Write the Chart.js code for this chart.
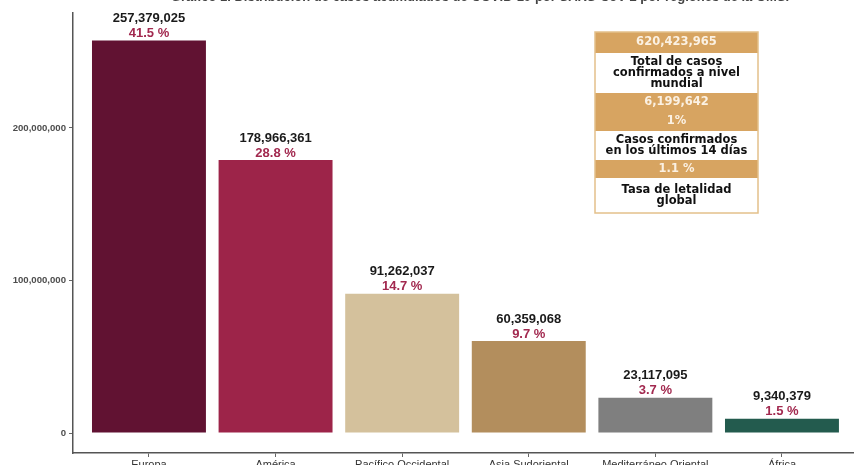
<!DOCTYPE html>
<html>
<head>
<meta charset="utf-8">
<script src="https://cdn.jsdelivr.net/npm/chart.js@4"></script>
<style>
html,body{margin:0;padding:0;background:#fff;}
#wrap{width:854px;height:465px;position:relative;}
</style>
</head>
<body>
<div id="wrap"><canvas id="c" width="854" height="465"></canvas></div>
<script>
const titleText = "Gráfico 1. Distribución de casos acumulados de COVID-19 por SARS-CoV-2 por regiones de la OMS.";
const categories = ["Europa", "América", "Pacífico Occidental", "Asia Sudoriental", "Mediterráneo Oriental", "África"];
const cases = [257379025, 178966361, 91262037, 60359068, 23117095, 9340379];
const percents = ["41.5 %", "28.8 %", "14.7 %", "9.7 %", "3.7 %", "1.5 %"];
const barColors = ["#611232", "#9D2449", "#D4C19C", "#B38E5D", "#7F7F7F", "#235B4E"];
const yTicks = [0, 100000000, 200000000];
const boxRows = [
  {gold: true, lines: ["620,423,965"]},
  {gold: false, lines: ["Total de casos", "confirmados a nivel", "mundial"]},
  {gold: true, lines: ["6,199,642", "1%"]},
  {gold: false, lines: ["Casos confirmados", "en los últimos 14 días"]},
  {gold: true, lines: ["1.1 %"]},
  {gold: false, lines: ["Tasa de letalidad", "global"]}
];

const fmt = n => n.toLocaleString('en-US');

const boxPlugin = {
  id: 'extras',
  afterDatasetsDraw(chart) {
    const ctx = chart.ctx;
    ctx.save();
    const meta = chart.getDatasetMeta(0);
    ctx.textAlign = 'center';
    ctx.textBaseline = 'middle';
    meta.data.forEach((bar, i) => {
      ctx.font = 'bold 13px "Liberation Sans", Arial, sans-serif';
      ctx.fillStyle = '#1a1a1a';
      ctx.fillText(fmt(cases[i]), bar.x, bar.y - 22);
      ctx.fillStyle = '#A2294F';
      ctx.fillText(percents[i], bar.x, bar.y - 7);
    });
    // title (cut off at top of the picture)
    ctx.font = 'bold 13px "Liberation Sans", Arial, sans-serif';
    ctx.fillStyle = '#444';
    ctx.textBaseline = 'alphabetic';
    ctx.fillText(titleText, 480, 1);

    // info box
    const bx = 595, bw = 163;
    const rowH = [21, 40, 38, 29, 18, 35];
    let y = 32;
    const gold = '#D7A461';
    const cx = bx + bw / 2;
    boxRows.forEach((row, r) => {
      const h = rowH[r];
      ctx.fillStyle = row.gold ? gold : '#ffffff';
      ctx.fillRect(bx, y, bw, h);
      ctx.fillStyle = row.gold ? '#FBF1E3' : '#111111';
      ctx.font = 'bold 11.5px "DejaVu Sans", sans-serif';
      ctx.textBaseline = 'middle';
      const n = row.lines.length;
      const lh = row.gold ? 19 : 11;
      const start = y + h / 2 - (n - 1) * lh / 2;
      row.lines.forEach((t, k) => ctx.fillText(t, cx, start + k * lh));
      y += h;
    });
    ctx.strokeStyle = '#E3C08A';
    ctx.lineWidth = 1.5;
    ctx.strokeRect(bx, 32, bw, y - 32);
    ctx.restore();
  }
};

new Chart(document.getElementById('c'), {
  type: 'bar',
  data: {
    datasets: [{
      data: cases.map((v, i) => ({x: i + 1, y: v})),
      backgroundColor: barColors,
      borderWidth: 0,
      barPercentage: 0.9,
      categoryPercentage: 1.0
    }]
  },
  options: {
    responsive: false,
    animation: false,
    devicePixelRatio: 1,
    layout: {padding: {top: 13, left: 0, right: 0, bottom: 0}},
    plugins: {legend: {display: false}, tooltip: {enabled: false}, title: {display: false}},
    scales: {
      x: {
        type: 'linear',
        offset: false,
        min: 0.4,
        max: 6.569,
        afterBuildTicks(scale) { scale.ticks = categories.map((c, i) => ({value: i + 1})); },
        afterFit(scale) { scale.height = 12; },
        ticks: {
          autoSkip: false,
          maxRotation: 0,
          padding: 1,
          color: '#333',
          font: {family: '"Liberation Sans", Arial, sans-serif', size: 11},
          callback: (v) => categories[Math.round(v) - 1]
        },
        grid: {offset: false, drawOnChartArea: false, drawTicks: true, tickLength: 4, color: '#666', lineWidth: 1},
        border: {display: true, color: '#555', width: 1.5}
      },
      y: {
        min: -13100000,
        max: 275400000,
        afterBuildTicks(scale) { scale.ticks = yTicks.map(v => ({value: v})); },
        afterFit(scale) { scale.width = 73; },
        ticks: {
          padding: 3,
          color: '#4d4d4d',
          font: {family: '"Liberation Sans", Arial, sans-serif', size: 9.6, weight: 'bold'},
          callback: (v) => fmt(v)
        },
        grid: {drawOnChartArea: false, drawTicks: true, tickLength: 4, color: '#666', lineWidth: 1},
        border: {display: true, color: '#555', width: 1.5}
      }
    }
  },
  plugins: [boxPlugin]
});
</script>
</body>
</html>
